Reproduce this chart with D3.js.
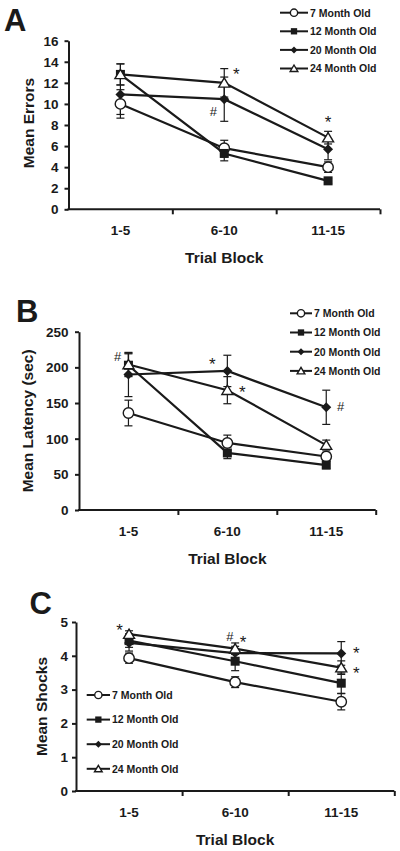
<!DOCTYPE html>
<html>
<head>
<meta charset="utf-8">
<script src="https://cdn.jsdelivr.net/npm/d3@7"></script>
<style>
  html, body { margin: 0; padding: 0; background: #fff; }
  svg { display: block; }
  text { font-family: "Liberation Sans", Arial, sans-serif; fill: #1a1a1a; }
</style>
</head>
<body>
<svg id="chart" width="400" height="851"></svg>
<script>
// ---------------- DATA ----------------
const categories = ["1-5", "6-10", "11-15"];
const seriesNames = ["7 Month Old", "12 Month Old", "20 Month Old", "24 Month Old"];
const seriesMarkers = ["circle", "square", "diamond", "triangle"];
const xAxisTitle = "Trial Block";

// Panel A: Mean Errors
const errorsTitle = "Mean Errors";
const errorsTicks = [0, 2, 4, 6, 8, 10, 12, 14, 16];
const errorsMeans = [
  [10.0, 5.8, 4.0],
  [12.8, 5.3, 2.7],
  [10.9, 10.45, 5.7],
  [12.8, 12.0, 6.8]
];
const errorsSEM = [
  [1.35, 0.75, 0.5],
  [1.0, 0.7, 0.25],
  [1.9, 2.1, 1.0],
  [1.0, 1.35, 0.6]
];
// [symbol, category index, value (data units), side]
const errorsMarks = [
  ["*", 1, 13.2, 1],
  ["#", 1, 9.3, -0.9],
  ["*", 2, 8.65, 0]
];

// Panel B: Mean Latency
const latencyTitle = "Mean Latency (sec)";
const latencyTicks = [0, 50, 100, 150, 200, 250];
const latencyMeans = [
  [136, 94, 75],
  [203, 80, 63],
  [190, 195, 144],
  [204, 168, 91]
];
const latencySEM = [
  [18, 11, 6],
  [16, 8, 5],
  [31, 22, 24],
  [16, 19, 7]
];
const latencyMarks = [
  ["#", 0, 216, -0.9],
  ["*", 1, 210, -1.25],
  ["*", 1, 171, 1.25],
  ["#", 2, 145, 1.2]
];

// Panel C: Mean Shocks
const shocksTitle = "Mean Shocks";
const shocksTicks = [0, 1, 2, 3, 4, 5];
const shocksMeans = [
  [3.93, 3.22, 2.64],
  [4.45, 3.84, 3.19],
  [4.38, 4.08, 4.07],
  [4.64, 4.21, 3.65]
];
const shocksSEM = [
  [0.15, 0.16, 0.24],
  [0.2, 0.28, 0.3],
  [0.24, 0.2, 0.35],
  [0.1, 0.17, 0.2]
];
const shocksMarks = [
  ["*", 0, 4.88, -0.8],
  ["#", 1, 4.59, -0.45],
  ["*", 1, 4.54, 0.65],
  ["*", 2, 4.22, 1.25],
  ["*", 2, 3.63, 1.25]
];

// ---------------- DRAWING ----------------
const svg = d3.select("#chart");
const INK = "#1a1a1a";

function drawMarker(g, type, cx, cy, s) {
  if (type === "circle") {
    g.append("circle").attr("cx", cx).attr("cy", cy).attr("r", s * 0.52)
      .attr("fill", "#fff").attr("stroke", INK).attr("stroke-width", 1.4);
  } else if (type === "square") {
    g.append("rect").attr("x", cx - s * 0.45).attr("y", cy - s * 0.45)
      .attr("width", s * 0.9).attr("height", s * 0.9).attr("fill", INK);
  } else if (type === "diamond") {
    const h = s * 0.5;
    g.append("path").attr("d", `M${cx},${cy - h}L${cx + h},${cy}L${cx},${cy + h}L${cx - h},${cy}Z`)
      .attr("fill", INK);
  } else if (type === "triangle") {
    const w = s * 0.55, h = s * 0.5;
    g.append("path").attr("d", `M${cx},${cy - h}L${cx + w},${cy + h * 0.85}L${cx - w},${cy + h * 0.85}Z`)
      .attr("fill", "#fff").attr("stroke", INK).attr("stroke-width", 1.4);
  }
}

function drawPanel(cfg) {
  const g = svg.append("g");
  const x = d3.scaleBand().domain(categories).range([cfg.x0, cfg.x1]);
  const y = d3.scaleLinear().domain([0, d3.max(cfg.ticks)]).range([cfg.yBottom, cfg.yTop]);

  // panel letter
  g.append("text").attr("x", cfg.letterX).attr("y", cfg.letterY)
    .attr("font-size", 31).attr("font-weight", "bold").text(cfg.letter);

  // y axis
  const ya = g.append("g").attr("transform", `translate(${cfg.x0},0)`)
    .call(d3.axisLeft(y).tickValues(cfg.ticks).tickSize(4).tickSizeOuter(0)
      .tickPadding(cfg.yPad).tickFormat(d3.format("d")));
  ya.select(".domain").attr("stroke", INK).attr("stroke-width", 2);
  ya.selectAll(".tick line").attr("stroke", INK).attr("stroke-width", 2);
  ya.selectAll(".tick text").attr("font-size", 13.5).attr("font-weight", "bold")
    .attr("fill", INK).attr("font-family", "Liberation Sans, Arial, sans-serif");

  // x axis: category labels
  const xa = g.append("g").attr("transform", `translate(0,${cfg.yBottom})`)
    .call(d3.axisBottom(x).tickSize(0).tickPadding(16).tickSizeOuter(0));
  xa.select(".domain").attr("stroke", INK).attr("stroke-width", 2)
    .attr("d", `M${cfg.x0 - 1},0H${cfg.x1}`);
  xa.selectAll(".tick text").attr("font-size", 13.5).attr("font-weight", "bold")
    .attr("fill", INK).attr("font-family", "Liberation Sans, Arial, sans-serif");
  // boundary ticks between categories
  const bnd = d3.scaleLinear().domain([0, categories.length]).range([cfg.x0, cfg.x1]);
  const xb = g.append("g").attr("transform", `translate(0,${cfg.yBottom})`)
    .call(d3.axisBottom(bnd).tickValues(d3.range(1, categories.length + 1))
      .tickSize(5).tickSizeOuter(0).tickFormat(""));
  xb.select(".domain").remove();
  xb.selectAll(".tick line").attr("stroke", INK).attr("stroke-width", 2);

  // axis titles
  g.append("text").attr("x", (cfg.x0 + cfg.x1) / 2).attr("y", cfg.yBottom + 54)
    .attr("text-anchor", "middle").attr("font-size", 15.5).attr("font-weight", "bold")
    .text(xAxisTitle);
  const ty = (cfg.yBottom + cfg.yTop) / 2 + cfg.titleDy;
  g.append("text").attr("transform", `translate(${cfg.titleX + 5.5},${ty}) rotate(-90)`)
    .attr("text-anchor", "middle").attr("font-size", 15.5).attr("font-weight", "bold")
    .text(cfg.title);

  const cx = (i) => x(categories[i]) + x.bandwidth() / 2;

  // error bars
  cfg.means.forEach((row, si) => {
    row.forEach((v, ci) => {
      const e = cfg.sem[si][ci];
      const X = cx(ci);
      g.append("line").attr("x1", X).attr("x2", X).attr("y1", y(v - e)).attr("y2", y(v + e))
        .attr("stroke", INK).attr("stroke-width", 1.2);
      [v - e, v + e].forEach(b => {
        g.append("line").attr("x1", X - 4).attr("x2", X + 4).attr("y1", y(b)).attr("y2", y(b))
          .attr("stroke", INK).attr("stroke-width", 1.2);
      });
    });
  });

  // lines
  const line = d3.line().x((d, i) => cx(i)).y(d => y(d));
  cfg.means.forEach(row => {
    g.append("path").attr("d", line(row)).attr("fill", "none")
      .attr("stroke", INK).attr("stroke-width", 2.2);
  });

  // markers
  cfg.means.forEach((row, si) => {
    row.forEach((v, ci) => drawMarker(g, seriesMarkers[si], cx(ci), y(v), 10));
  });

  // significance marks
  cfg.marks.forEach(([sym, ci, v, side]) => {
    const X = cx(ci) + side * 12;
    const isStar = sym === "*";
    const fs = isStar ? 17 : 13;
    const base = y(v) + (isStar ? 0.6 : 0.36) * fs;
    g.append("text").attr("x", X).attr("y", base).attr("text-anchor", "middle")
      .attr("font-size", fs)
      .attr("font-family", isStar ? "DejaVu Sans, sans-serif" : "Liberation Serif, serif")
      .text(sym);
  });

  // legend
  seriesNames.forEach((name, i) => {
    const ly = cfg.legY + i * cfg.legStep;
    g.append("line").attr("x1", cfg.legX).attr("x2", cfg.legX + cfg.legW)
      .attr("y1", ly).attr("y2", ly).attr("stroke", INK).attr("stroke-width", 2);
    drawMarker(g, seriesMarkers[i], cfg.legX + cfg.legW / 2, ly, 7);
    g.append("text").attr("x", cfg.legX + cfg.legW + 2).attr("y", ly + 3.8)
      .attr("font-size", 10.5).attr("font-weight", "bold").text(name);
  });
}

drawPanel({
  letter: "A", letterX: 4, letterY: 31,
  x0: 68.5, x1: 380, yTop: 40.7, yBottom: 209.3, yPad: 6,
  ticks: errorsTicks, means: errorsMeans, sem: errorsSEM, marks: errorsMarks,
  title: errorsTitle, titleX: 28, titleDy: -2,
  legX: 280, legW: 28, legY: 12.7, legStep: 18.6
});
drawPanel({
  letter: "B", letterX: 16, letterY: 322,
  x0: 79, x1: 375.7, yTop: 331.7, yBottom: 510, yPad: 6.5,
  ticks: latencyTicks, means: latencyMeans, sem: latencySEM, marks: latencyMarks,
  title: latencyTitle, titleX: 27, titleDy: 0,
  legX: 290, legW: 22, legY: 313.3, legStep: 19.2
});
drawPanel({
  letter: "C", letterX: 29.5, letterY: 614,
  x0: 76, x1: 394.3, yTop: 622, yBottom: 791, yPad: 4,
  ticks: shocksTicks, means: shocksMeans, sem: shocksSEM, marks: shocksMarks,
  title: shocksTitle, titleX: 41.7, titleDy: 0,
  legX: 86.7, legW: 23.3, legY: 695, legStep: 24.6
});
</script>
</body>
</html>
